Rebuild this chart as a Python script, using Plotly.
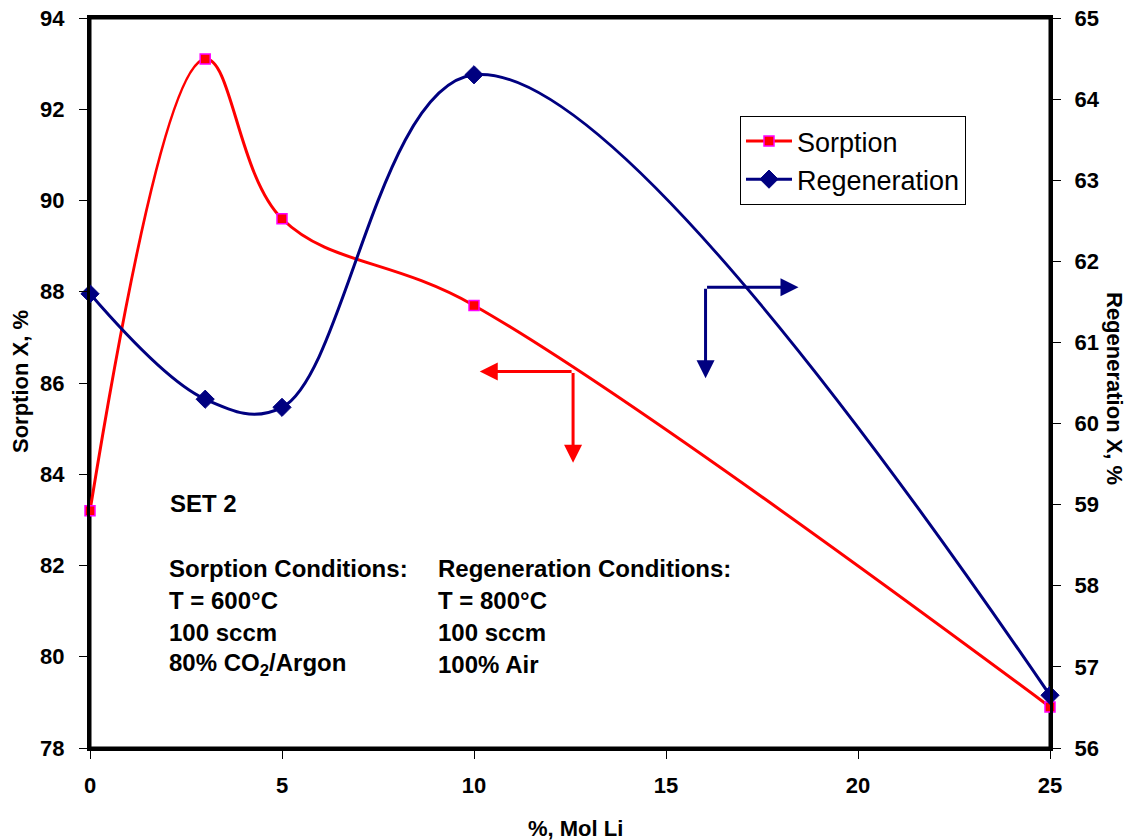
import plotly.graph_objects as go

mol_li = [0, 3, 5, 10, 25]
sorption = [83.2, 93.1, 89.6, 87.7, 78.9]
regeneration = [61.6, 60.3, 60.2, 64.3, 56.65]

x_ticks = [0, 5, 10, 15, 20, 25]
y_left_ticks = [78, 80, 82, 84, 86, 88, 90, 92, 94]
y_right_ticks = [56, 57, 58, 59, 60, 61, 62, 63, 64, 65]

# arrow indicators (corner point, horizontal tip x, vertical tip y)
sorp_arrow = dict(x=12.58, y=86.25, hx=10.15, vy=84.25)
regen_arrow = dict(x=16.03, y=61.68, hx=18.45, vy=60.56)

FONT = "Liberation Sans, Arial, sans-serif"
RED = "#FF0000"
NAVY = "#000080"

# page body has an 8px margin; figure is sized/offset to compensate
OFF = 8
L, R, T, B = 90, 1050, 18, 748          # plot area in screen pixels
W, H = 1133 - OFF, 840 - OFF
PW, PH = R - L, B - T

def px(xp):
    return (xp - L) / PW

def py(yp):
    return (B - yp) / PH

fig = go.Figure()
fig.add_trace(go.Scatter(
    x=mol_li, y=sorption, name="Sorption", mode="lines+markers", cliponaxis=False,
    line=dict(color=RED, width=3, shape="spline", smoothing=1.05),
    marker=dict(symbol="square", size=10, color=RED, line=dict(color="#FF00FF", width=1.5)),
))
fig.add_trace(go.Scatter(
    x=mol_li, y=regeneration, name="Regeneration", mode="lines+markers", yaxis="y2", cliponaxis=False,
    line=dict(color=NAVY, width=3, shape="spline", smoothing=1.05),
    marker=dict(symbol="diamond", size=14, color=NAVY, line=dict(color=NAVY, width=1)),
))

tickfont = dict(family=FONT, size=22, color="black")
axis_common = dict(showgrid=False, zeroline=False, showline=True, linecolor="black", linewidth=3,
                   ticks="outside", ticklen=8, tickcolor="black", tickwidth=1, tickfont=tickfont,
                   automargin=False, ticklabeloverflow="allow")

fig.update_layout(
    width=W, height=H,
    margin=dict(l=L - OFF, r=W - (R - OFF), t=T - OFF, b=H - (B - OFF), autoexpand=False),
    paper_bgcolor="white", plot_bgcolor="white",
    showlegend=True,
    legend=dict(x=px(740), y=py(116), xanchor="left", yanchor="top",
                bordercolor="black", borderwidth=1, bgcolor="white",
                font=dict(family=FONT, size=27, color="black"),
                itemwidth=46, tracegroupgap=0),
    xaxis=dict(range=[0, 25], tickvals=x_ticks, ticktext=[f"<b>{v}</b>" for v in x_ticks],
               mirror=True, ticklabelstandoff=8, **axis_common),
    yaxis=dict(range=[78, 94], tickvals=y_left_ticks, ticktext=[f"<b>{v}</b>" for v in y_left_ticks],
               ticklabelstandoff=10, **axis_common),
    yaxis2=dict(range=[56, 65], tickvals=y_right_ticks, ticktext=[f"<b>{v}</b>" for v in y_right_ticks],
                overlaying="y", side="right", ticklabelstandoff=9, **axis_common),
)

# plot-area frame
fig.add_shape(type="rect", xref="paper", yref="paper", x0=0, x1=1, y0=0, y1=1,
              line=dict(color="black", width=3), layer="below")

titlefont = dict(family=FONT, size=22, color="black")
# axis titles
fig.add_annotation(text="<b>Sorption X, %</b>", xref="paper", yref="paper", x=px(21), y=py(382),
                   textangle=-90, showarrow=False, font=titlefont, xanchor="center", yanchor="middle")
fig.add_annotation(text="<b>Regeneration X, %</b>", xref="paper", yref="paper", x=px(1115), y=py(388),
                   textangle=90, showarrow=False, font=titlefont, xanchor="center", yanchor="middle")
fig.add_annotation(text="<b>%, Mol Li</b>", xref="paper", yref="paper", x=px(575), y=py(828),
                   showarrow=False, font=titlefont, xanchor="center", yanchor="middle")

# direction arrows
for arr, color, yref in [(sorp_arrow, RED, "y"), (regen_arrow, NAVY, "y2")]:
    fig.add_annotation(x=arr["hx"], y=arr["y"], ax=arr["x"], ay=arr["y"], xref="x", yref=yref,
                       axref="x", ayref=yref, showarrow=True, arrowhead=2, arrowsize=1.2,
                       arrowwidth=3, arrowcolor=color, text="")
    fig.add_annotation(x=arr["x"], y=arr["vy"], ax=arr["x"], ay=arr["y"], xref="x", yref=yref,
                       axref="x", ayref=yref, showarrow=True, arrowhead=2, arrowsize=1.2,
                       arrowwidth=3, arrowcolor=color, text="")

textfont = dict(family=FONT, size=24, color="black")
fig.add_annotation(text="<b>SET 2</b>", xref="paper", yref="paper", x=px(168), y=py(503),
                   xanchor="left", yanchor="middle", showarrow=False, font=textfont)
sorp_cond = ["Sorption Conditions:", "T = 600°C", "100 sccm", "80% CO<sub>2</sub>/Argon"]
regen_cond = ["Regeneration Conditions:", "T = 800°C", "100 sccm", "100% Air"]
line_y = [568, 600, 632, 664]
for col, x_px in [(sorp_cond, 167), (regen_cond, 436)]:
    for txt, y_px in zip(col, line_y):
        fig.add_annotation(text=f"<b>{txt}</b>", xref="paper", yref="paper",
                           x=px(x_px), y=py(y_px),
                           xanchor="left", yanchor="middle", showarrow=False, font=textfont)

fig.write_html("out.html")
